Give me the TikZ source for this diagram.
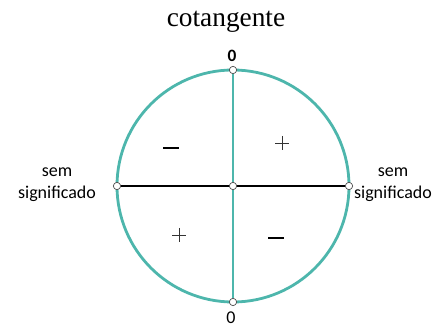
\documentclass[tikz,border=0pt]{standalone}
\usepackage{fontspec}
\setmainfont{Carlito}
\newfontfamily\titlefont{Liberation Serif}
\usetikzlibrary{positioning}
\definecolor{eixo}{RGB}{77,182,172}

\begin{document}
\begin{tikzpicture}[
  x=0.75pt,y=-0.75pt,
  font=\fontsize{13.5}{16.5}\selectfont,
  circ/.style={draw=eixo,line width=2.1pt},
  vert/.style={draw=eixo,line width=1.5pt},
  horiz/.style={draw=black,line width=1.5pt},
  ponto/.style={circle,draw=black!70,fill=white,inner sep=0pt,minimum size=5.5pt,line width=0.5pt},
  rotulo/.style={align=center,anchor=base},
]
\useasboundingbox (0,0) rectangle (446,331);
% ----- circle and axes
\coordinate (O) at (233,186);
\draw[circ] (O) circle[radius=116];
\node[ponto] (top) at (233,70) {};
\node[ponto] (bot) at (233,302) {};
\node[ponto] (lft) at (117,186) {};
\node[ponto] (rgt) at (349,186) {};
\draw[vert] (top) -- (bot);
\draw[horiz] (lft) -- (rgt);
\node[ponto] (ctr) at (O) {};
% ----- labels
\node[anchor=base,font=\titlefont\fontsize{20.5}{24}\selectfont] (titulo) at (226,27) {cotangente};
\node[anchor=base,font=\fontsize{13}{15}\selectfont\bfseries] (zerotop) at (232,62) {0};
\node[anchor=base] (zerobot) at (231,323) {0};
\node[rotulo] (semesq) at (57,199) {sem\\significado};
\node[rotulo] (semdir) at (393,199) {sem\\significado};
% ----- signs
\draw[line width=1.5pt] (163,148) -- (179,148);
\draw[line width=1.5pt] (268,238) -- (284,238);
\draw[line width=0.7pt,black!80] (275,143) -- (289,143) (282,136) -- (282,150);
\draw[line width=0.7pt,black!80] (172,235) -- (186,235) (179,228) -- (179,242);
\end{tikzpicture}
\end{document}
